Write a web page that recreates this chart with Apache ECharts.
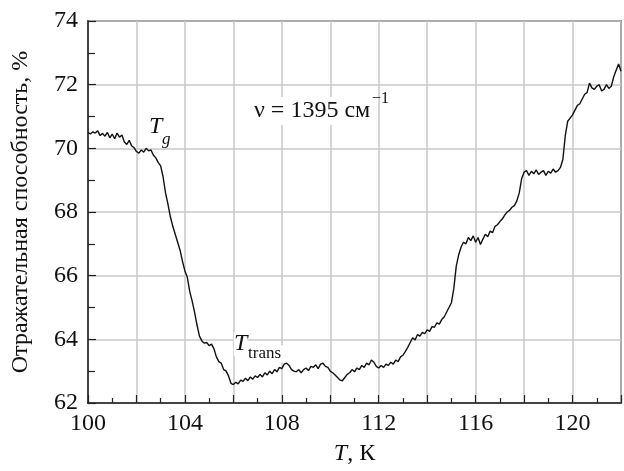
<!DOCTYPE html>
<html>
<head>
<meta charset="utf-8">
<script src="https://cdn.jsdelivr.net/npm/echarts@6/dist/echarts.min.js"></script>
<style>
  html, body { margin: 0; padding: 0; background: #fff; }
  #chart { width: 624px; height: 471px; }
</style>
</head>
<body>
<div id="chart"></div>
<script>
// temperature, K
const temps = [
  100.0, 100.1, 100.2, 100.3, 100.4, 100.5, 100.6, 100.7, 100.8, 100.9,
  101.0, 101.1, 101.2, 101.3, 101.4, 101.5, 101.6, 101.7, 101.8, 101.9,
  102.0, 102.1, 102.2, 102.3, 102.4, 102.5, 102.6, 102.7, 102.8, 102.9,
  103.0, 103.1, 103.2, 103.3, 103.4, 103.5, 103.6, 103.7, 103.8, 103.9,
  104.0, 104.1, 104.2, 104.3, 104.4, 104.5, 104.6, 104.7, 104.8, 104.9,
  105.0, 105.1, 105.2, 105.3, 105.4, 105.5, 105.6, 105.7, 105.8, 105.9,
  106.0, 106.1, 106.2, 106.3, 106.4, 106.5, 106.6, 106.7, 106.8, 106.9,
  107.0, 107.1, 107.2, 107.3, 107.4, 107.5, 107.6, 107.7, 107.8, 107.9,
  108.0, 108.1, 108.2, 108.3, 108.4, 108.5, 108.6, 108.7, 108.8, 108.9,
  109.0, 109.1, 109.2, 109.3, 109.4, 109.5, 109.6, 109.7, 109.8, 109.9,
  110.0, 110.1, 110.2, 110.3, 110.4, 110.5, 110.6, 110.7, 110.8, 110.9,
  111.0, 111.1, 111.2, 111.3, 111.4, 111.5, 111.6, 111.7, 111.8, 111.9,
  112.0, 112.1, 112.2, 112.3, 112.4, 112.5, 112.6, 112.7, 112.8, 112.9,
  113.0, 113.1, 113.2, 113.3, 113.4, 113.5, 113.6, 113.7, 113.8, 113.9,
  114.0, 114.1, 114.2, 114.3, 114.4, 114.5, 114.6, 114.7, 114.8, 114.9,
  115.0, 115.1, 115.2, 115.3, 115.4, 115.5, 115.6, 115.7, 115.8, 115.9,
  116.0, 116.1, 116.2, 116.3, 116.4, 116.5, 116.6, 116.7, 116.8, 116.9,
  117.0, 117.1, 117.2, 117.3, 117.4, 117.5, 117.6, 117.7, 117.8, 117.9,
  118.0, 118.1, 118.2, 118.3, 118.4, 118.5, 118.6, 118.7, 118.8, 118.9,
  119.0, 119.1, 119.2, 119.3, 119.4, 119.5, 119.6, 119.7, 119.8, 119.9,
  120.0, 120.1, 120.2, 120.3, 120.4, 120.5, 120.6, 120.7, 120.8, 120.9,
  121.0, 121.1, 121.2, 121.3, 121.4, 121.5, 121.6, 121.7, 121.8, 121.9,
  122.0
];

// reflectance, %
const reflectance = [
  70.50, 70.45, 70.52, 70.48, 70.55, 70.40, 70.47, 70.38, 70.50, 70.33,
  70.45, 70.30, 70.48, 70.35, 70.42, 70.20, 70.12, 70.25, 70.08, 70.02,
  69.90, 69.85, 69.95, 69.88, 70.00, 69.92, 69.95, 69.78, 69.70, 69.55,
  69.45, 69.10, 68.60, 68.25, 67.85, 67.55, 67.30, 67.05, 66.80, 66.45,
  66.15, 65.95, 65.50, 65.20, 64.85, 64.45, 64.10, 63.95, 63.88, 63.90,
  63.80, 63.85, 63.70, 63.45, 63.30, 63.25, 63.05, 63.00, 62.85, 62.62,
  62.58, 62.65, 62.60, 62.72, 62.68, 62.78, 62.70, 62.82, 62.75, 62.85,
  62.80, 62.90, 62.82, 62.95, 62.88, 63.00, 62.92, 63.05, 62.98, 63.12,
  63.08, 63.22, 63.25, 63.18, 63.05, 63.00, 62.98, 63.05, 62.95, 63.05,
  63.10, 63.02, 63.15, 63.12, 63.20, 63.08, 63.22, 63.25, 63.15, 63.12,
  63.00, 62.95, 62.88, 62.80, 62.72, 62.70, 62.80, 62.90, 62.95, 63.05,
  62.98, 63.10, 63.05, 63.18, 63.12, 63.25, 63.20, 63.35, 63.28, 63.15,
  63.10, 63.18, 63.12, 63.22, 63.18, 63.28, 63.22, 63.35, 63.30, 63.45,
  63.50, 63.62, 63.75, 63.90, 64.05, 63.98, 64.15, 64.10, 64.22, 64.18,
  64.30, 64.25, 64.40, 64.38, 64.52, 64.48, 64.62, 64.70, 64.85, 65.00,
  65.15, 65.60, 66.30, 66.65, 66.90, 67.05, 67.00, 67.20, 67.10, 67.25,
  67.05, 67.20, 66.98, 67.15, 67.30, 67.22, 67.40, 67.35, 67.55, 67.60,
  67.70, 67.78, 67.90, 68.00, 68.05, 68.15, 68.20, 68.35, 68.60, 69.05,
  69.25, 69.30, 69.15, 69.28, 69.20, 69.32, 69.18, 69.25, 69.30, 69.15,
  69.28, 69.22, 69.35, 69.25, 69.30, 69.40, 69.65, 70.40, 70.85, 70.95,
  71.05, 71.20, 71.35, 71.40, 71.55, 71.70, 71.75, 72.05, 71.90, 71.85,
  71.95, 72.00, 71.80, 71.85, 72.00, 71.88, 71.95, 72.25, 72.45, 72.65,
  72.42
];

const xLabelTicks = [100, 104, 108, 112, 116, 120];

const serif = '"Liberation Serif", "DejaVu Serif", serif';

const chart = echarts.init(document.getElementById('chart'), null, { renderer: 'canvas' });

const option = {
  backgroundColor: '#fff',
  animation: false,
  grid: {
    left: 88, right: 2, top: 21, bottom: 62,
    show: true, borderColor: '#222', borderWidth: 1.5
  },
  xAxis: {
    type: 'value',
    min: 100, max: 122, interval: 2,
    name: '{i|T}, К',
    nameLocation: 'middle',
    nameGap: 39,
    nameTextStyle: {
      fontFamily: serif, fontSize: 24, color: '#111',
      rich: { i: { fontFamily: serif, fontSize: 24, fontStyle: 'italic', color: '#111' } }
    },
    axisLine: { lineStyle: { color: '#222', width: 1.5 } },
    axisTick: { inside: true, length: 8, lineStyle: { color: '#222', width: 1.2 } },
    minorTick: { show: true, splitNumber: 2, length: 5, lineStyle: { color: '#222', width: 1.2 } },
    axisLabel: {
      fontFamily: serif, fontSize: 24, color: '#111', margin: 9,
      formatter: v => (xLabelTicks.includes(v) ? String(v) : '')
    },
    splitLine: { show: true, lineStyle: { color: '#c8c8c8', width: 1.5 } }
  },
  yAxis: {
    type: 'value',
    min: 62, max: 74, interval: 2,
    name: 'Отражательная способность, %',
    nameLocation: 'middle',
    nameGap: 55,
    nameTextStyle: { fontFamily: serif, fontSize: 24, color: '#111' },
    axisLine: { lineStyle: { color: '#222', width: 1.5 } },
    axisTick: { inside: true, length: 8, lineStyle: { color: '#222', width: 1.2 } },
    minorTick: { show: true, splitNumber: 2, length: 7, lineStyle: { color: '#222', width: 1.2 } },
    axisLabel: { fontFamily: serif, fontSize: 24, color: '#111', margin: 10 },
    splitLine: { show: true, lineStyle: { color: '#c8c8c8', width: 1.5 } }
  },
  series: [{
    type: 'line',
    data: temps.map((t, i) => [t, reflectance[i]]),
    showSymbol: false,
    lineStyle: { color: '#111', width: 1.4 },
    z: 5
  }],
  graphic: [
    { type: 'text', x: 149, y: 127, z: 10,
      style: { text: 'T', font: 'italic 24px ' + serif, fill: '#111', verticalAlign: 'middle' } },
    { type: 'text', x: 162, y: 140, z: 10,
      style: { text: 'g', font: 'italic 17px ' + serif, fill: '#111', verticalAlign: 'middle' } },
    { type: 'text', x: 234, y: 344, z: 10,
      style: { text: 'T', font: 'italic 24px ' + serif, fill: '#111', verticalAlign: 'middle',
               backgroundColor: '#fff' } },
    { type: 'text', x: 248, y: 354, z: 10,
      style: { text: 'trans', font: '17px ' + serif, fill: '#111', verticalAlign: 'middle',
               backgroundColor: '#fff', padding: [0, 2, 0, 0] } },
    { type: 'text', x: 252, y: 111, z: 10,
      style: { text: 'ν = 1395 см', font: '24px ' + serif, fill: '#111', verticalAlign: 'middle',
               backgroundColor: '#fff', padding: [2, 4, 2, 2] } },
    { type: 'text', x: 372, y: 99, z: 11,
      style: { text: '−1', font: '16px ' + serif, fill: '#111', verticalAlign: 'middle' } }
  ]
};

chart.setOption(option);
window.addEventListener('resize', () => chart.resize());
</script>
</body>
</html>
